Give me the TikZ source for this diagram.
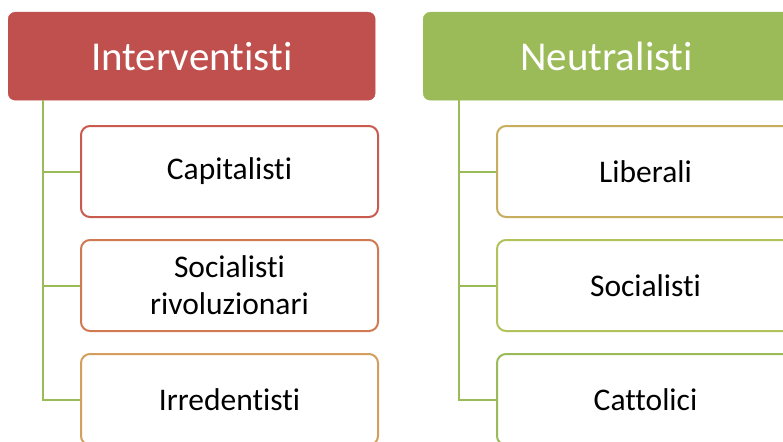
\documentclass[tikz,border=0pt]{standalone}
\usepackage{fontspec}
\setmainfont{Carlito}[Ligatures={NoCommon}]
\usepackage{tikz}
\usetikzlibrary{positioning}
\definecolor{redhead}{HTML}{C0504D}
\definecolor{greenhead}{HTML}{9BBB59}
\definecolor{edgeA}{HTML}{C85A4E}
\definecolor{edgeB}{HTML}{CF7A52}
\definecolor{edgeC}{HTML}{D49E5C}
\definecolor{edgeD}{HTML}{C6AE5E}
\definecolor{edgeE}{HTML}{B4C25C}
\definecolor{edgeF}{HTML}{9BBB59}

\begin{document}
\begin{tikzpicture}[
    x=1pt, y=1pt,
    header/.style={
      fill=#1,
      draw=#1,
      text=white,
      rounded corners=7pt,
      minimum width=367pt,
      minimum height=88pt,
      anchor=north west,
      font=\fontsize{41}{49}\selectfont
    },
    item/.style={
      draw=#1,
      line width=2pt,
      fill=white,
      rounded corners=9pt,
      minimum width=297pt,
      minimum height=91pt,
      anchor=north west,
      align=center,
      font=\fontsize{31.5}{37}\selectfont
    },
    link/.style={
      draw=greenhead,
      line width=2pt
    }
]
\clip (0,0) rectangle (783,-441);

% Interventisti
\node (interv) [header=redhead] at (8,-12) {Interventisti};
\node (capit) [item=edgeA] at (80,-125) {Capitalisti};
\node (socriv) [item=edgeB] at (80,-239) {Socialisti\\rivoluzionari};
\node (irred) [item=edgeC] at (80,-353) {Irredentisti};
\coordinate (ltrunk) at ([xshift=35pt]interv.south west);
\draw [link] (ltrunk) |- (capit.west);
\draw [link] (ltrunk) |- (socriv.west);
\draw [link] (ltrunk) |- (irred.west);

% Neutralisti
\node (neutr) [header=greenhead] at (423,-12) {Neutralisti};
\node (liber) [item=edgeD] at (496,-125) {Liberali};
\node (socia) [item=edgeE] at (496,-239) {Socialisti};
\node (catto) [item=edgeF] at (496,-353) {Cattolici};
\coordinate (rtrunk) at ([xshift=36pt]neutr.south west);
\draw [link] (rtrunk) |- (liber.west);
\draw [link] (rtrunk) |- (socia.west);
\draw [link] (rtrunk) |- (catto.west);

\end{tikzpicture}
\end{document}
